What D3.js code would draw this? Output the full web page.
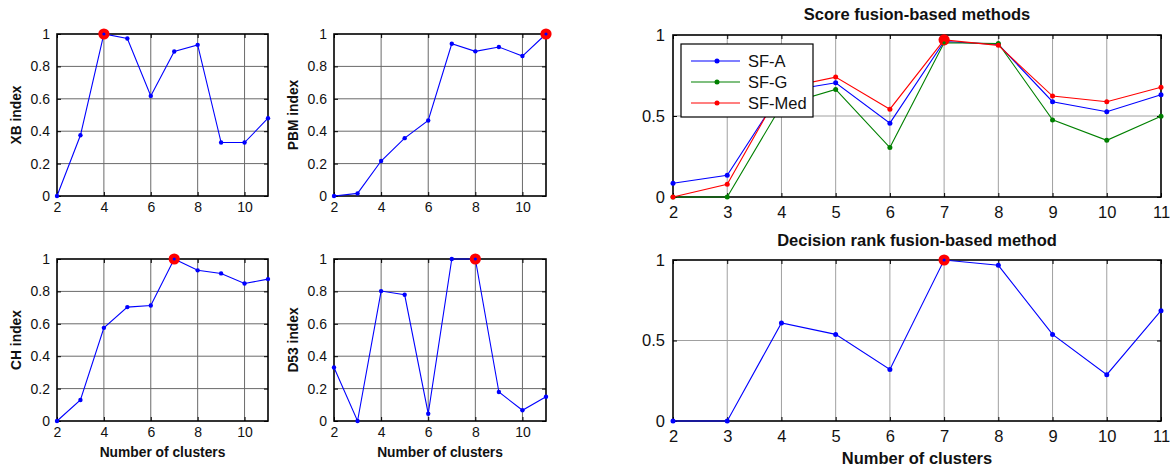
<!DOCTYPE html>
<html>
<head>
<meta charset="utf-8">
<script src="https://cdn.jsdelivr.net/npm/d3@7"></script>
<style>
  body { margin: 0; background: #fff; }
  svg { display: block; font-family: "Liberation Sans", Arial, Helvetica, sans-serif; }
</style>
</head>
<body>
<svg id="chart" width="1170" height="468"></svg>
<script>
// Number of clusters evaluated
const clusters = [2, 3, 4, 5, 6, 7, 8, 9, 10, 11];

// Normalised validity indices
const xbIndex  = [0, 0.375, 1, 0.972, 0.618, 0.892, 0.933, 0.33, 0.33, 0.48];
const pbmIndex = [0, 0.016, 0.216, 0.357, 0.466, 0.94, 0.893, 0.92, 0.864, 1];
const chIndex  = [0, 0.13, 0.575, 0.703, 0.713, 1, 0.93, 0.911, 0.849, 0.876];
const d53Index = [0.33, 0, 0.802, 0.779, 0.045, 1, 1, 0.179, 0.066, 0.15];

// Score fusion results
const sfA   = [0.085, 0.134, 0.65, 0.705, 0.456, 0.96, 0.942, 0.588, 0.526, 0.631];
const sfG   = [0, 0, 0.565, 0.664, 0.305, 0.952, 0.948, 0.476, 0.35, 0.499];
const sfMed = [0, 0.078, 0.67, 0.74, 0.542, 0.97, 0.936, 0.623, 0.588, 0.678];

// Decision rank fusion result
const drFusion = [0, 0, 0.609, 0.538, 0.32, 1, 0.967, 0.538, 0.288, 0.685];

// Chosen number of clusters per panel
const bestK = { xb: 4, pbm: 11, ch: 7, d53: 8, sf: 7, dr: 7 };

// Tick labels
const smallXTicks = [2, 4, 6, 8, 10];
const smallYTicks = [0, 0.2, 0.4, 0.6, 0.8, 1];
const wideXTicks  = [2, 3, 4, 5, 6, 7, 8, 9, 10, 11];
const wideYTicks  = [0, 0.5, 1];

const seriesNames = ["SF-A", "SF-G", "SF-Med"];
const seriesColors = ["#0000ff", "#008000", "#ff0000"];

const svg = d3.select("#chart");

function drawPanel(cfg) {
  const g = svg.append("g");
  const x = d3.scaleLinear().domain([2, 11]).range([cfg.left, cfg.right]);
  const y = d3.scaleLinear().domain([0, 1]).range([cfg.bottom, cfg.top]);

  // grid
  g.append("g").selectAll("line")
    .data(cfg.xTicks.filter(t => t > 2 && t < 11))
    .join("line")
    .attr("x1", d => x(d)).attr("x2", d => x(d))
    .attr("y1", cfg.top).attr("y2", cfg.bottom)
    .attr("stroke", cfg.gridColor).attr("stroke-width", 1);
  g.append("g").selectAll("line")
    .data(cfg.yTicks.filter(t => t > 0 && t < 1))
    .join("line")
    .attr("y1", d => y(d)).attr("y2", d => y(d))
    .attr("x1", cfg.left).attr("x2", cfg.right)
    .attr("stroke", cfg.gridColor).attr("stroke-width", 1);

  // axes with inward ticks
  const fmt = d => String(d);
  const bottom = g.append("g").attr("transform", `translate(0,${cfg.bottom})`)
    .call(d3.axisBottom(x).tickValues(cfg.xTicks).tickSize(-4).tickPadding(cfg.xPad).tickFormat(fmt));
  const left = g.append("g").attr("transform", `translate(${cfg.left},0)`)
    .call(d3.axisLeft(y).tickValues(cfg.yTicks).tickSize(-4).tickPadding(cfg.yPad).tickFormat(fmt));
  const top = g.append("g").attr("transform", `translate(0,${cfg.top})`)
    .call(d3.axisTop(x).tickValues(cfg.xTicks).tickSize(-4).tickFormat(""));
  const right = g.append("g").attr("transform", `translate(${cfg.right},0)`)
    .call(d3.axisRight(y).tickValues(cfg.yTicks).tickSize(-4).tickFormat(""));
  [bottom, left, top, right].forEach(a => {
    a.select(".domain").remove();
    a.selectAll("line").attr("stroke", "#000");
    a.attr("font-family", null).attr("font-size", null);
    a.selectAll("text").attr("fill", "#111").style("font-size", cfg.tickFont + "px");
  });

  // frame
  g.append("rect")
    .attr("x", cfg.left).attr("y", cfg.top)
    .attr("width", cfg.right - cfg.left).attr("height", cfg.bottom - cfg.top)
    .attr("fill", "none").attr("stroke", "#000").attr("stroke-width", 1.6);

  // series
  const line = d3.line().x((d, i) => x(clusters[i])).y(d => y(d));
  cfg.series.forEach(s => {
    g.append("path").datum(s.values)
      .attr("d", line).attr("fill", "none")
      .attr("stroke", s.color).attr("stroke-width", 1.1);
    g.append("g").selectAll("circle").data(s.values).join("circle")
      .attr("cx", (d, i) => x(clusters[i])).attr("cy", d => y(d))
      .attr("r", cfg.dotR).attr("fill", s.color);
  });

  // highlighted optimum
  const hs = cfg.series[cfg.highlightSeries];
  const hi = clusters.indexOf(cfg.best);
  g.append("circle")
    .attr("cx", x(cfg.best)).attr("cy", y(hs.values[hi]))
    .attr("r", 5.6).attr("fill", "#ff0000");
  g.append("circle")
    .attr("cx", x(cfg.best)).attr("cy", y(cfg.series[cfg.innerSeries].values[hi]))
    .attr("r", 1.6).attr("fill", cfg.series[cfg.innerSeries].color);

  // labels
  if (cfg.yLabel) {
    g.append("text")
      .attr("transform", `translate(${cfg.yLabelX},${(cfg.top + cfg.bottom) / 2}) rotate(-90)`)
      .attr("text-anchor", "middle")
      .attr("font-weight", "bold").attr("font-size", cfg.labelFont + "px")
      .attr("fill", "#111")
      .text(cfg.yLabel);
  }
  if (cfg.xLabel) {
    g.append("text")
      .attr("x", (cfg.left + cfg.right) / 2).attr("y", cfg.xLabelY)
      .attr("text-anchor", "middle")
      .attr("font-weight", "bold").attr("font-size", cfg.labelFont + "px")
      .attr("fill", "#111")
      .text(cfg.xLabel);
  }
  if (cfg.title) {
    g.append("text")
      .attr("x", (cfg.left + cfg.right) / 2).attr("y", cfg.titleY)
      .attr("text-anchor", "middle")
      .attr("font-weight", "bold").attr("font-size", cfg.titleFont + "px")
      .attr("fill", "#111")
      .text(cfg.title);
  }
  return { g, x, y };
}

const smallBase = {
  xTicks: smallXTicks, yTicks: smallYTicks, gridColor: "#6a6a6a",
  xPad: 6, yPad: 7, tickFont: 14, labelFont: 13.8, dotR: 2.2,
  highlightSeries: 0, innerSeries: 0, yLabelX: 20.5
};

drawPanel(Object.assign({}, smallBase, {
  left: 57, right: 268, top: 34, bottom: 196,
  series: [{ values: xbIndex, color: "#0000ff" }],
  best: bestK.xb, yLabel: "XB index"
}));
drawPanel(Object.assign({}, smallBase, {
  left: 334, right: 546, top: 34, bottom: 196,
  series: [{ values: pbmIndex, color: "#0000ff" }],
  best: bestK.pbm, yLabel: "PBM index", yLabelX: 298
}));
drawPanel(Object.assign({}, smallBase, {
  left: 57, right: 268, top: 259, bottom: 421,
  series: [{ values: chIndex, color: "#0000ff" }],
  best: bestK.ch, yLabel: "CH index", xLabel: "Number of clusters", xLabelY: 457
}));
drawPanel(Object.assign({}, smallBase, {
  left: 334, right: 546, top: 259, bottom: 421,
  series: [{ values: d53Index, color: "#0000ff" }],
  best: bestK.d53, yLabel: "D53 index", yLabelX: 298, xLabel: "Number of clusters", xLabelY: 457
}));

const wideBase = {
  xTicks: wideXTicks, yTicks: wideYTicks, gridColor: "#a0a0a0",
  xPad: 9, yPad: 8, tickFont: 16.5, labelFont: 16.5, titleFont: 16.5, dotR: 2.5
};

drawPanel(Object.assign({}, wideBase, {
  left: 673, right: 1161, top: 35, bottom: 197,
  series: [sfA, sfG, sfMed].map((v, i) => ({ values: v, color: seriesColors[i] })),
  highlightSeries: 2, innerSeries: 1,
  best: bestK.sf, title: "Score fusion-based methods", titleY: 20
}));
drawPanel(Object.assign({}, wideBase, {
  left: 673, right: 1161, top: 260, bottom: 421,
  series: [{ values: drFusion, color: "#0000ff" }],
  highlightSeries: 0, innerSeries: 0,
  best: bestK.dr, title: "Decision rank fusion-based method", titleY: 246,
  xLabel: "Number of clusters", xLabelY: 464
}));

// legend for the score fusion panel
const legend = svg.append("g").attr("transform", "translate(681,44)");
legend.append("rect").attr("width", 132).attr("height", 73)
  .attr("fill", "#fff").attr("stroke", "#000").attr("stroke-width", 1.2);
const items = legend.selectAll("g.item").data(seriesNames).join("g")
  .attr("class", "item")
  .attr("transform", (d, i) => `translate(0,${17 + i * 21})`);
items.append("line").attr("x1", 10).attr("x2", 59)
  .attr("stroke", (d, i) => seriesColors[i]).attr("stroke-width", 1.1);
items.append("circle").attr("cx", 36).attr("r", 2.5)
  .attr("fill", (d, i) => seriesColors[i]);
items.append("text").attr("x", 67).attr("dy", "0.36em")
  .attr("font-size", "16.5px").attr("fill", "#111")
  .text(d => d);
</script>
</body>
</html>
